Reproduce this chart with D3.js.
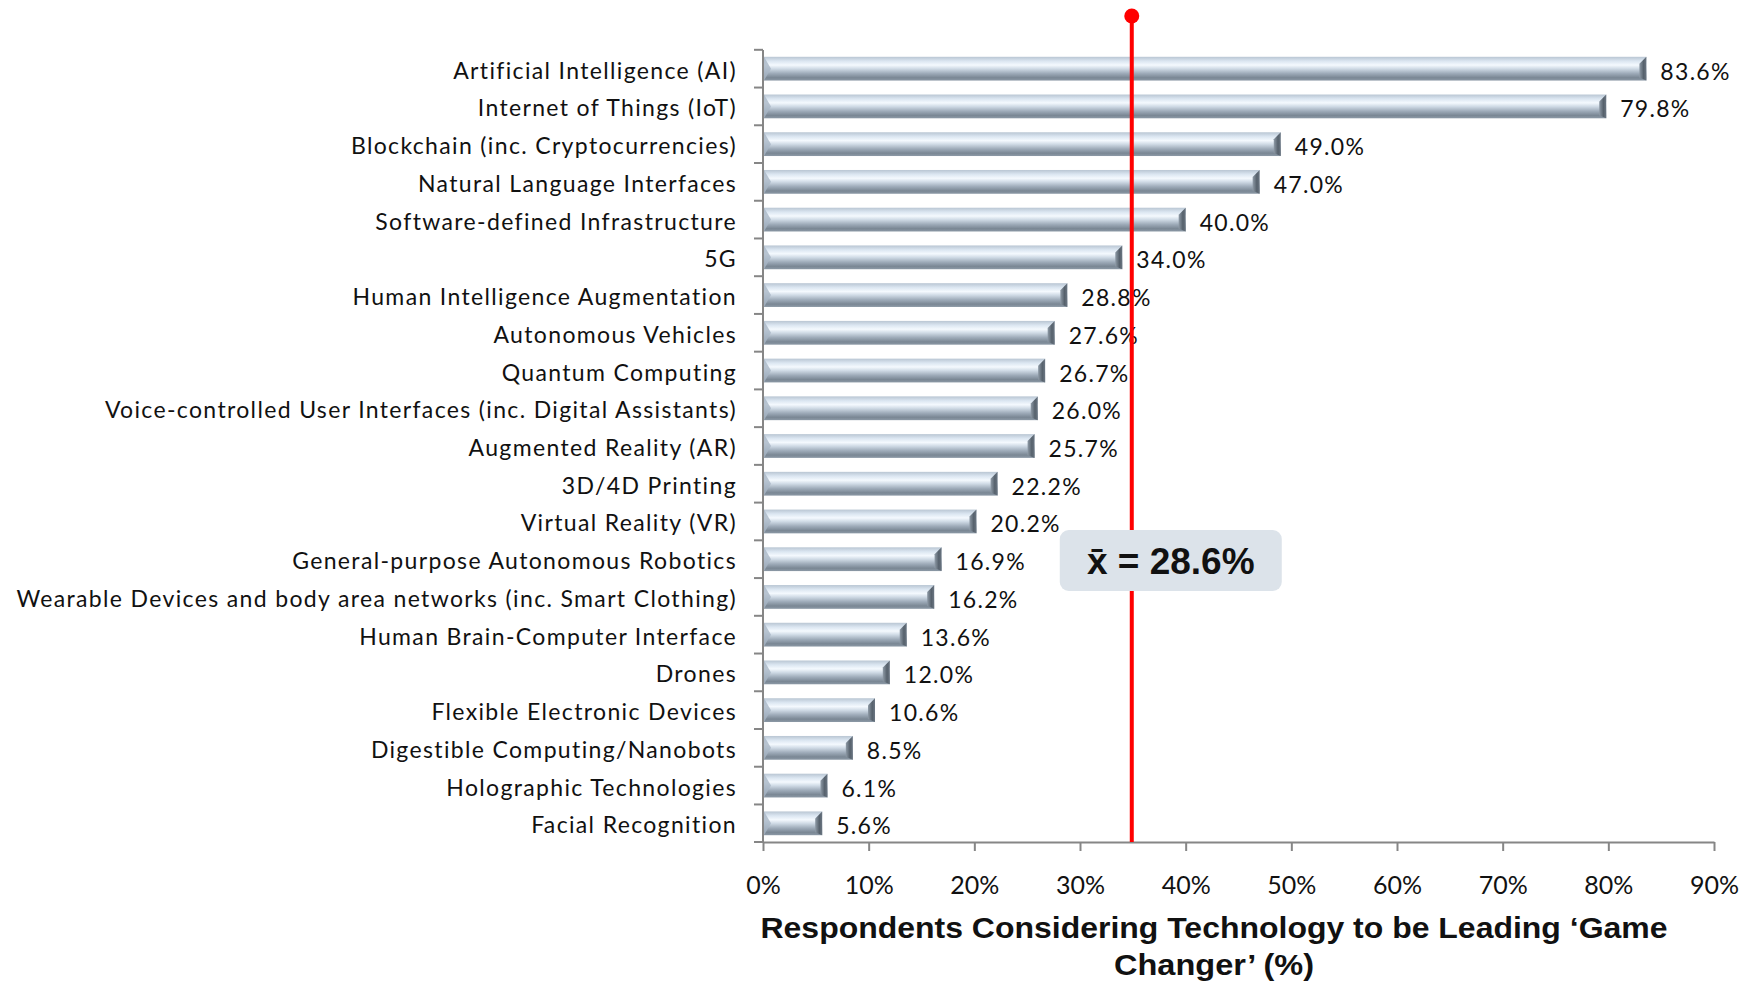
<!DOCTYPE html>
<html>
<head>
<meta charset="utf-8">
<script src="https://cdn.jsdelivr.net/npm/d3@7"></script>
<style>
  body { margin: 0; background: #fff; }
  svg { display: block; }
  .cat, .val, .tick text { font-family: Lato, "Open Sans", sans-serif; fill: #111; }
  .axis path, .axis line { stroke: #868686; stroke-width: 2; }
</style>
</head>
<body>
<div id="chart"></div>
<script>
// technologies, top to bottom
const categories = [
  "Artificial Intelligence (AI)",
  "Internet of Things (IoT)",
  "Blockchain (inc. Cryptocurrencies)",
  "Natural Language Interfaces",
  "Software-defined Infrastructure",
  "5G",
  "Human Intelligence Augmentation",
  "Autonomous Vehicles",
  "Quantum Computing",
  "Voice-controlled User Interfaces (inc. Digital Assistants)",
  "Augmented Reality (AR)",
  "3D/4D Printing",
  "Virtual Reality (VR)",
  "General-purpose Autonomous Robotics",
  "Wearable Devices and body area networks (inc. Smart Clothing)",
  "Human Brain-Computer Interface",
  "Drones",
  "Flexible Electronic Devices",
  "Digestible Computing/Nanobots",
  "Holographic Technologies",
  "Facial Recognition"
];
const values = [83.6, 79.8, 49.0, 47.0, 40.0, 34.0, 28.8, 27.6, 26.7, 26.0, 25.7,
                22.2, 20.2, 16.9, 16.2, 13.6, 12.0, 10.6, 8.5, 6.1, 5.6];
const xTicks = [0, 10, 20, 30, 40, 50, 60, 70, 80, 90];
const meanLabel = "x\u0304 = 28.6%";
const markerAt = 34.9;   // where the red marker line is drawn in the original

const data = categories.map((c, i) => ({ cat: c, value: values[i] }));

const width = 1759, height = 984;
const margin = { top: 50, right: 45, bottom: 142, left: 763 };
const w = width - margin.left - margin.right;
const h = height - margin.top - margin.bottom;

const svg = d3.select("#chart").append("svg")
  .attr("width", width)
  .attr("height", height);

const defs = svg.append("defs");
const grad = defs.append("linearGradient")
  .attr("id", "barGrad").attr("x1", 0).attr("y1", 0).attr("x2", 0).attr("y2", 1);
[[0, "#b9c6d3"], [0.18, "#dbe6f1"], [0.35, "#f4f9fe"], [0.5, "#d0dbe6"],
 [0.7, "#9eabb9"], [0.88, "#7a8794"], [1, "#8c99a6"]]
  .forEach(s => grad.append("stop").attr("offset", s[0]).attr("stop-color", s[1]));

const capGrad = defs.append("linearGradient")
  .attr("id", "capGrad").attr("x1", 0).attr("y1", 0).attr("x2", 1).attr("y2", 0);
[[0, "#8f9ba7"], [0.6, "#56616c"], [1, "#6b7682"]]
  .forEach(s => capGrad.append("stop").attr("offset", s[0]).attr("stop-color", s[1]));

const g = svg.append("g")
  .attr("transform", "translate(" + margin.left + "," + margin.top + ")");

const x = d3.scaleLinear().domain([0, 90]).range([0, w]);
const y = d3.scaleBand().domain(categories).range([0, h]).paddingInner(0.37).paddingOuter(0.18);

// axes
g.append("g")
  .attr("class", "axis")
  .attr("transform", "translate(0," + h + ")")
  .call(d3.axisBottom(x).tickValues(xTicks).tickFormat(d => d + "%").tickSize(9).tickSizeOuter(0).tickPadding(25))
  .call(a => a.selectAll("text").style("font-size", "25px").attr("fill", "#111"));

const yAxis = g.append("g")
  .attr("class", "axis")
  .call(d3.axisLeft(y).tickSize(0).tickSizeOuter(0).tickFormat(""));
yAxis.select(".domain").attr("d", "M0,0V" + h);
// tick marks between the categories
const step = y.step();
const bounds = d3.range(categories.length + 1).map(i => y(categories[0]) - y.paddingInner() * step / 2 + i * step);
g.selectAll(".ytick").data(bounds).enter().append("line")
  .attr("x1", -9).attr("x2", 0)
  .attr("y1", d => Math.min(d, h)).attr("y2", d => Math.min(d, h))
  .attr("stroke", "#868686").attr("stroke-width", 2);

// category labels
g.selectAll(".cat").data(data).enter().append("text")
  .attr("class", "cat")
  .attr("x", -26)
  .attr("y", d => y(d.cat) + y.bandwidth() / 2 + 1)
  .attr("dominant-baseline", "central")
  .attr("text-anchor", "end")
  .style("font-size", "23px")
  .style("letter-spacing", "1.35px")
  .text(d => d.cat);

// bars
const bars = g.selectAll(".bar").data(data).enter().append("g").attr("class", "bar");
bars.append("rect")
  .attr("x", 1)
  .attr("y", d => y(d.cat))
  .attr("width", d => x(d.value) - 1)
  .attr("height", y.bandwidth())
  .attr("fill", "url(#barGrad)");
// bevelled right end
bars.append("path")
  .attr("d", d => {
    const x1 = x(d.value), y0 = y(d.cat), bh = y.bandwidth(), b = 7;
    return "M" + (x1 - b) + "," + (y0 + b) + "L" + x1 + "," + y0 + "L" + x1 + "," + (y0 + bh) +
      "L" + (x1 - b) + "," + (y0 + bh - 3) + "Z";
  })
  .attr("fill", "url(#capGrad)");
// light left bevel
bars.append("path")
  .attr("d", d => {
    const y0 = y(d.cat), bh = y.bandwidth();
    return "M1," + y0 + "L8," + (y0 + bh / 2) + "L1," + (y0 + bh) + "Z";
  })
  .attr("fill", "#a9b7c6").attr("opacity", 0.8);

// value labels
g.selectAll(".val").data(data).enter().append("text")
  .attr("class", "val")
  .attr("x", d => x(d.value) + 14)
  .attr("y", d => y(d.cat) + y.bandwidth() / 2 + 2)
  .attr("dominant-baseline", "central")
  .style("font-size", "23px")
  .style("letter-spacing", "1.3px")
  .text(d => d.value.toFixed(1) + "%");

// red marker line with dot
g.append("line")
  .attr("x1", x(markerAt)).attr("x2", x(markerAt))
  .attr("y1", 16 - margin.top).attr("y2", h)
  .attr("stroke", "#ff0000").attr("stroke-width", 4);
g.append("circle")
  .attr("cx", x(markerAt)).attr("cy", 16 - margin.top)
  .attr("r", 7.5).attr("fill", "#ff0000");

// mean box
const boxX = x(markerAt) - 72, boxY = 530 - margin.top;
g.append("rect")
  .attr("x", boxX).attr("y", boxY)
  .attr("width", 222).attr("height", 61).attr("rx", 9)
  .attr("fill", "#dce3ea");
g.append("text")
  .attr("x", boxX + 111).attr("y", boxY + 44)
  .attr("text-anchor", "middle")
  .style("font-family", "'Liberation Sans', Arial, sans-serif")
  .style("font-weight", "bold").style("font-size", "37px")
  .attr("fill", "#111")
  .text(meanLabel);

// axis title
const title = g.append("text")
  .attr("text-anchor", "middle")
  .style("font-family", "'Liberation Sans Narrow', 'Liberation Sans', Arial, sans-serif")
  .style("font-weight", "bold").style("font-size", "29px")
  .attr("fill", "#111");
title.append("tspan")
  .attr("x", 1214 - margin.left).attr("y", 938 - margin.top)
  .attr("textLength", 907).attr("lengthAdjust", "spacingAndGlyphs")
  .text("Respondents Considering Technology to be Leading \u2018Game");
title.append("tspan")
  .attr("x", 1214 - margin.left).attr("y", 975 - margin.top)
  .attr("textLength", 200).attr("lengthAdjust", "spacingAndGlyphs")
  .text("Changer\u2019 (%)");
</script>
</body>
</html>
